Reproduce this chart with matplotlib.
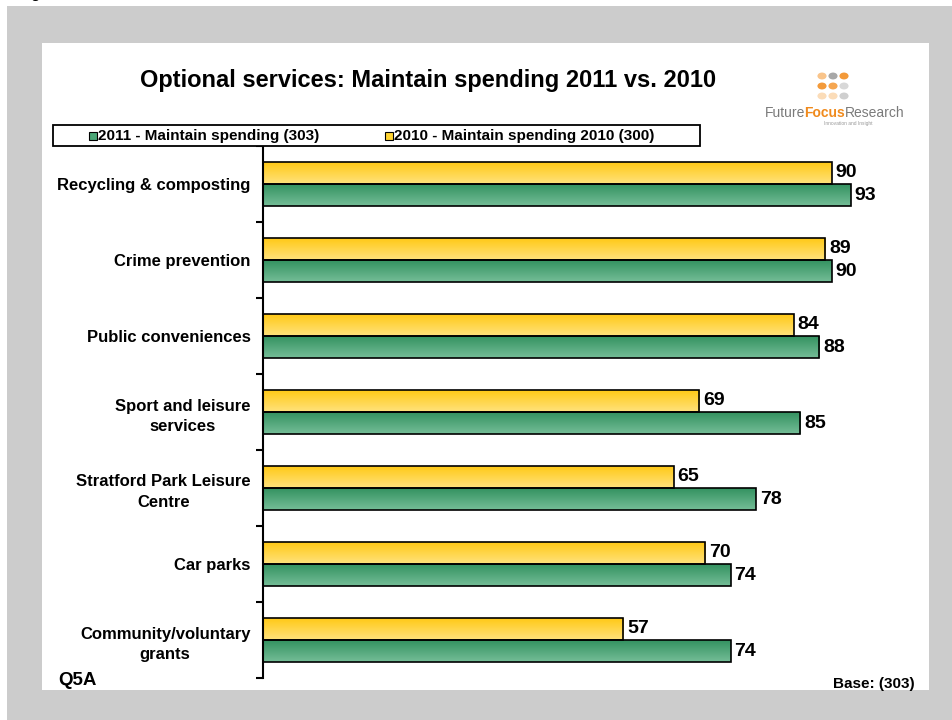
import numpy as np
import matplotlib
matplotlib.use("Agg")
import matplotlib.pyplot as plt
from matplotlib.patches import Rectangle
from matplotlib.colors import LinearSegmentedColormap

plt.rcParams['font.family'] = ['Liberation Sans', 'DejaVu Sans']

categories = ["Recycling & composting", "Crime prevention", "Public conveniences",
              "Sport and leisure\nservices", "Stratford Park Leisure\nCentre",
              "Car parks", "Community/voluntary\ngrants"]
maintain_2011 = [93, 90, 88, 85, 78, 74, 74]
maintain_2010 = [90, 89, 84, 69, 65, 70, 57]
legend_labels = ["2011 - Maintain spending (303)", "2010 - Maintain spending 2010 (300)"]
title = "Optional services: Maintain spending 2011 vs. 2010"

W, H = 952, 720
def fx(px):
    return px / W
def fy(py):
    return 1 - py / H

fig = plt.figure(figsize=(W / 100, H / 100), dpi=100)
fig.patch.set_facecolor("white")

# grey page and white chart panel
fig.patches.append(Rectangle((fx(7), 0), 1 - fx(7), fy(6), transform=fig.transFigure,
                             facecolor="#cccccc", edgecolor="none", zorder=-2))
fig.patches.append(Rectangle((fx(42), fy(690)), fx(929) - fx(42), fy(43) - fy(690),
                             transform=fig.transFigure, facecolor="white",
                             edgecolor="none", zorder=-1))
fig.text(fx(30), fy(-2), "g", fontsize=12, color="black", va="baseline", ha="left")

ax = fig.add_axes([fx(263), fy(678), fx(895) - fx(263), fy(146) - fy(678)])
ax.set_facecolor("none")
ax.set_zorder(1)

y = np.arange(len(categories))
h = 0.292
off = 0.146

yellow_cm = LinearSegmentedColormap.from_list("yel", ["#ffc812", "#ffe27c"])
green_cm = LinearSegmentedColormap.from_list("grn", ["#31905e", "#74bd97"])
grad = np.linspace(0, 1, 64).reshape(-1, 1)

def draw_bars(vals, ypos, cmap):
    bars = ax.barh(ypos, vals, height=h, facecolor="none", edgecolor="black",
                   linewidth=1.2, zorder=3)
    for b in bars:
        x0, y0 = b.get_x(), b.get_y()
        w, hh = b.get_width(), b.get_height()
        im = ax.imshow(grad, cmap=cmap, aspect="auto", origin="upper",
                       extent=(x0, x0 + w, y0 + hh, y0), zorder=2,
                       interpolation="bilinear")
        im.set_clip_path(b)
    return bars

draw_bars(maintain_2010, y - off, yellow_cm)
draw_bars(maintain_2011, y + off, green_cm)

for i in range(len(categories)):
    ax.text(maintain_2010[i] + 0.6, y[i] - off, str(maintain_2010[i]), va="center",
            ha="left", fontsize=14, fontweight="bold")
    ax.text(maintain_2011[i] + 0.6, y[i] + off, str(maintain_2011[i]), va="center",
            ha="left", fontsize=14, fontweight="bold")

ax.set_xlim(0, 100)
ax.set_ylim(len(categories) - 0.5, -0.5)

for s in ["top", "right", "bottom"]:
    ax.spines[s].set_visible(False)
ax.spines["left"].set_linewidth(1.5)
ax.set_xticks([])

ax.set_yticks(y)
ax.set_yticklabels(categories, fontsize=12, fontweight="bold")
for lab in ax.get_yticklabels():
    lab.set_multialignment("center")
    lab.set_linespacing(1.45)
ax.tick_params(axis="y", which="major", length=0, pad=9)
ax.set_yticks(np.arange(len(categories) + 1) - 0.5, minor=True)
ax.tick_params(axis="y", which="minor", length=5, width=1.5, direction="out")

fig.text(fx(428), fy(87), title, fontsize=17, fontweight="bold",
         ha="center", va="baseline")

# legend strip
fig.patches.append(Rectangle((fx(53), fy(146)), fx(700) - fx(53), fy(125) - fy(146),
                             transform=fig.transFigure, facecolor="white",
                             edgecolor="black", linewidth=1.3, zorder=5))
legend_colors = ["#4aa676", "#ffd432"]
legend_x = [89, 385]
for lx, lc, lt in zip(legend_x, legend_colors, legend_labels):
    fig.patches.append(Rectangle((fx(lx), fy(140)), fx(8), fy(132) - fy(140),
                                 transform=fig.transFigure, facecolor=lc,
                                 edgecolor="black", linewidth=0.8, zorder=6))
    fig.text(fx(lx + 9), fy(136), lt, fontsize=11, fontweight="bold",
             ha="left", va="center", zorder=7)

# logo
dot_colors = [["#f9c48a", "#a8a8a8", "#f39a3a"],
              ["#f39a3a", "#f5a650", "#d8d8d8"],
              ["#fbdcb8", "#fbdcb8", "#cfcfcf"]]
for r in range(3):
    for c in range(3):
        fig.patches.append(plt.Circle((fx(822 + c * 11), fy(76 + r * 10)), 0.0048,
                                      transform=fig.transFigure,
                                      facecolor=dot_colors[r][c], edgecolor="none"))
fig.text(fx(765), fy(117), "Future", fontsize=10, color="#7a7a7a", ha="left", va="baseline")
fig.text(fx(804), fy(117), "Focus", fontsize=10, color="#f08a1c", fontweight="bold",
         ha="left", va="baseline")
fig.text(fx(845), fy(117), "Research", fontsize=10, color="#7a7a7a", ha="left", va="baseline")
fig.text(fx(848), fy(125), "Innovation and Insight", fontsize=3.5, color="#999999",
         ha="center", va="baseline")

fig.text(fx(58), fy(685), "Q5A", fontsize=13.5, fontweight="bold", ha="left", va="baseline")
fig.text(fx(915), fy(688), "Base: (303)", fontsize=11, fontweight="bold", ha="right",
         va="baseline")

fig.savefig("out.png", dpi=100)
